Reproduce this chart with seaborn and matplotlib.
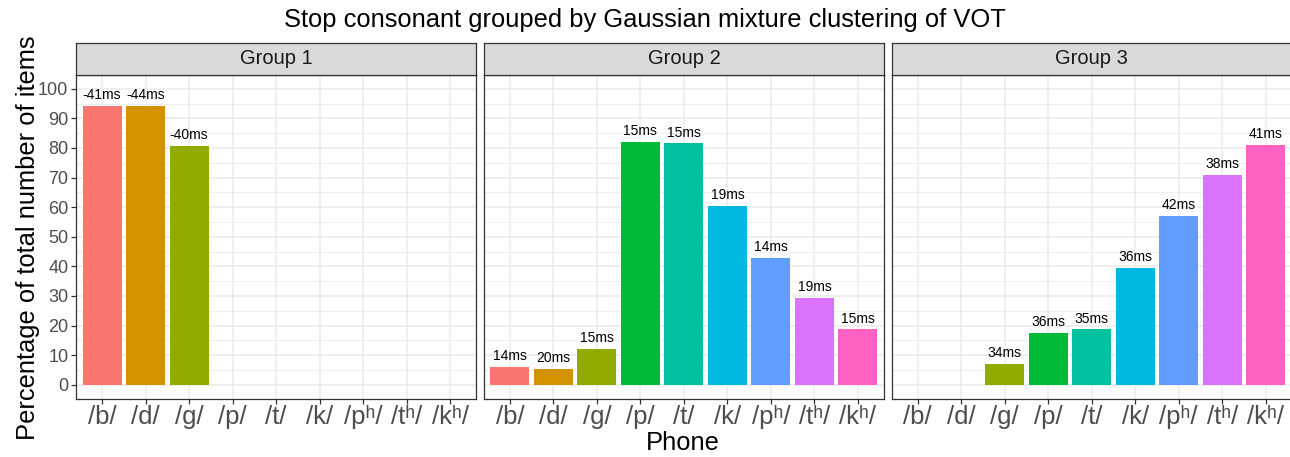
import matplotlib
matplotlib.use("Agg")
import matplotlib.pyplot as plt
import seaborn as sns
import pandas as pd
import numpy as np

phones = ["/b/", "/d/", "/g/", "/p/", "/t/", "/k/", "/pʰ/", "/tʰ/", "/kʰ/"]
palette = ["#F8766D", "#D39200", "#93AA00", "#00BA38", "#00C19F",
           "#00B9E3", "#619CFF", "#DB72FB", "#FF61C3"]
groups = ["Group 1", "Group 2", "Group 3"]

g1_phones = ["/b/", "/d/", "/g/"]
g1_pct = [94.3, 94.3, 80.8]
g1_vot = ["-41ms", "-44ms", "-40ms"]

g2_phones = ["/b/", "/d/", "/g/", "/p/", "/t/", "/k/", "/pʰ/", "/tʰ/", "/kʰ/"]
g2_pct = [5.9, 5.5, 12.0, 82.1, 81.5, 60.4, 42.8, 29.2, 18.7]
g2_vot = ["14ms", "20ms", "15ms", "15ms", "15ms", "19ms", "14ms", "19ms", "15ms"]

g3_phones = ["/g/", "/p/", "/t/", "/k/", "/pʰ/", "/tʰ/", "/kʰ/"]
g3_pct = [7.1, 17.6, 18.7, 39.4, 57.0, 70.9, 81.1]
g3_vot = ["34ms", "36ms", "35ms", "36ms", "42ms", "38ms", "41ms"]

sns.set_theme(style="white")
plt.rcParams["font.family"] = ["Liberation Sans", "DejaVu Sans"]

frames = []
for gname, ph, pc, vt in [(groups[0], g1_phones, g1_pct, g1_vot),
                          (groups[1], g2_phones, g2_pct, g2_vot),
                          (groups[2], g3_phones, g3_pct, g3_vot)]:
    frames.append(pd.DataFrame({"group": gname, "phone": ph, "pct": pc, "vot": vt}))
df = pd.concat(frames, ignore_index=True)

W, H = 1290, 457
fig = plt.figure(figsize=(W / 100, H / 100), dpi=100)

left0 = 76
gap = 7.6
pw = 400.2
strip_top, strip_bot, panel_bot = 43.3, 74.5, 399

def fx(px):
    return px / W

def fy(py):
    return 1 - py / H

axes = []
for i, gname in enumerate(groups):
    x0 = left0 + i * (pw + gap)
    ax = fig.add_axes([fx(x0), fy(panel_bot), pw / W, (panel_bot - strip_bot) / H])
    sax = fig.add_axes([fx(x0), fy(strip_bot), pw / W, (strip_bot - strip_top) / H])
    sub = df[df["group"] == gname]
    sns.barplot(data=sub, x="phone", y="pct", hue="phone", order=phones,
                hue_order=phones, palette=palette, width=0.9, saturation=1,
                legend=False, ax=ax, linewidth=0)
    for _, r in sub.iterrows():
        xi = phones.index(r["phone"])
        ax.text(xi, r["pct"] + 1.3, r["vot"], ha="center", va="bottom",
                fontsize=10, color="black")
    ax.set_xlim(-0.6, 8.6)
    ax.set_ylim(-4.8, 104.8)
    ax.set_yticks(np.arange(0, 101, 10))
    ax.set_yticks(np.arange(5, 101, 10), minor=True)
    ax.set_axisbelow(True)
    ax.grid(True, which="major", color="#EBEBEB", linewidth=1.1)
    ax.grid(True, which="minor", axis="y", color="#EBEBEB", linewidth=0.55)
    ax.tick_params(axis="x", which="major", length=3.5, width=0.9, color="#333333",
                   labelsize=18.5, labelcolor="#4D4D4D", pad=1, bottom=True)
    ax.tick_params(axis="y", which="major", length=3.5, width=0.9, color="#333333",
                   labelsize=13, labelcolor="#4D4D4D", pad=2, left=True)
    ax.tick_params(axis="y", which="minor", length=0, left=False)
    if i > 0:
        ax.tick_params(axis="y", which="major", left=False, labelleft=False)
    for s in ax.spines.values():
        s.set_visible(True)
        s.set_color("#333333")
        s.set_linewidth(0.9)
    ax.set_xlabel("")
    ax.set_ylabel("")
    sax.set_facecolor("#D9D9D9")
    sax.set_xticks([])
    sax.set_yticks([])
    for s in sax.spines.values():
        s.set_visible(True)
        s.set_color("#333333")
        s.set_linewidth(0.9)
    sax.text(0.5, 0.5, gname, ha="center", va="center", fontsize=14.5,
             color="#1A1A1A", transform=sax.transAxes)
    axes.append(ax)

fig.text(0.5, fy(20), "Stop consonant grouped by Gaussian mixture clustering of VOT",
         ha="center", va="center", fontsize=18.4, color="black")
fig.text(fx(683), fy(443), "Phone", ha="center", va="center", fontsize=18.4, color="black")
fig.text(fx(28), fy(238), "Percentage of total number of items", ha="center",
         va="center", rotation=90, fontsize=18.4, color="black")

fig.savefig("out.png", dpi=100)
